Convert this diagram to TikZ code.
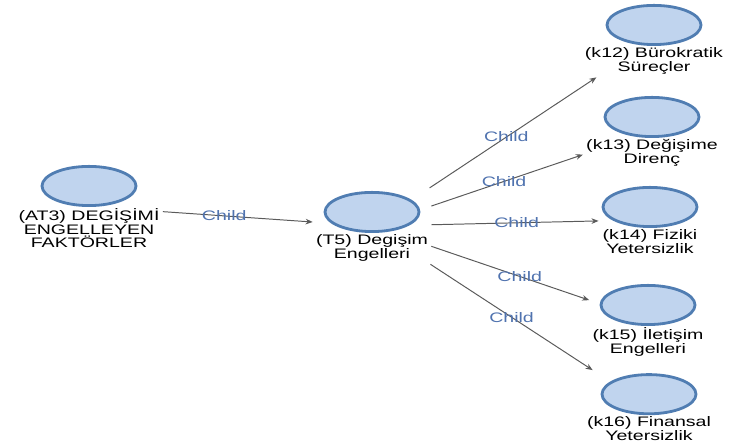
\documentclass[tikz,border=0pt]{standalone}
\usepackage{fontspec}
\setmainfont{Liberation Sans}[FakeStretch=1.42]
\usetikzlibrary{shapes.geometric,positioning,fit,arrows.meta}
\definecolor{bubblefill}{RGB}{192,212,238}
\definecolor{bubbleline}{RGB}{80,125,178}
\definecolor{edgegray}{RGB}{90,90,90}
\definecolor{childblue}{RGB}{80,115,175}

\begin{document}
\begin{tikzpicture}[every node/.style={font=\fontsize{9.8}{9.7}\selectfont},
  bubble/.style={ellipse, draw=bubbleline, line width=2pt, fill=bubblefill,
    minimum width=2.35cm, minimum height=0.98cm, inner sep=0pt},
  caption/.style={align=center, inner sep=0pt, below=0.03cm of #1},
  group/.style={inner sep=2pt, fit=#1},
  childedge/.style={draw=edgegray, line width=0.7pt, -{Stealth[length=5pt,width=4pt]}},
  childlabel/.style={text=childblue, inner sep=1pt}]
  \useasboundingbox (0,0) rectangle (18.25,11.125);

  % Define bubble centers
  \coordinate (AT3) at (2.225,6.475);  % parent factor
  \coordinate (T5) at (9.3,5.825);     % theme
  \coordinate (K12) at (16.35,10.5);
  \coordinate (K13) at (16.3,8.2);
  \coordinate (K14) at (16.25,5.95);
  \coordinate (K15) at (16.2,3.5);
  \coordinate (K16) at (16.225,1.27);

  % Draw bubbles with captions
  \node[bubble] (at3) at (AT3) {};
  \node[caption=at3] (at3cap) {(AT3) DEGİŞİMİ\\ENGELLEYEN\\FAKTÖRLER};
  \node[bubble] (t5) at (T5) {};
  \node[caption=t5] (t5cap) {(T5) Degişim\\Engelleri};
  \node[bubble] (k12) at (K12) {};
  \node[caption=k12] (k12cap) {(k12) Bürokratik\\Süreçler};
  \node[bubble] (k13) at (K13) {};
  \node[caption=k13] (k13cap) {(k13) Değişime\\Direnç};
  \node[bubble] (k14) at (K14) {};
  \node[caption=k14] (k14cap) {(k14) Fiziki\\Yetersizlik};
  \node[bubble] (k15) at (K15) {};
  \node[caption=k15] (k15cap) {(k15) İletişim\\Engelleri};
  \node[bubble] (k16) at (K16) {};
  \node[caption=k16] (k16cap) {(k16) Finansal\\Yetersizlik};

  % Boxes round bubble and caption
  \node[group=(at3)(at3cap)] (at3grp) {};
  \node[group=(t5)(t5cap)] (t5grp) {};
  \node[group=(k12)(k12cap)] (k12grp) {};
  \node[group=(k13)(k13cap)] (k13grp) {};
  \node[group=(k14)(k14cap)] (k14grp) {};
  \node[group=(k15)(k15cap)] (k15grp) {};
  \node[group=(k16)(k16cap)] (k16grp) {};

  % Child links
  \draw[childedge] (at3grp) -- (t5grp) node[childlabel, pos=0.41] {Child};
  \draw[childedge] (t5grp) -- (k12grp) node[childlabel, pos=0.46] {Child};
  \draw[childedge] (t5grp) -- (k13grp) node[childlabel, pos=0.48] {Child};
  \draw[childedge] (t5grp) -- (k14grp) node[childlabel, pos=0.51] {Child};
  \draw[childedge] (t5grp) -- (k15grp) node[childlabel, pos=0.56] {Child};
  \draw[childedge] (t5grp) -- (k16grp) node[childlabel, pos=0.5] {Child};

\end{tikzpicture}
\end{document}
